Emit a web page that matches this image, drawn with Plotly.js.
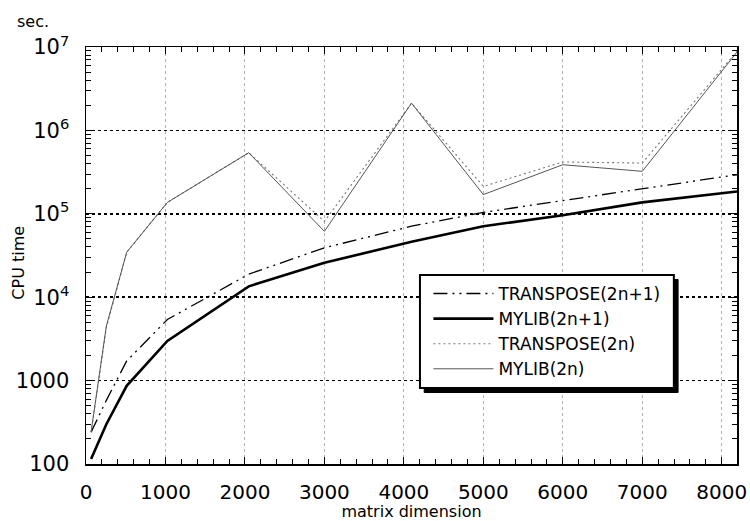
<!DOCTYPE html>
<html>
<head>
<meta charset="utf-8">
<script src="https://cdn.plot.ly/plotly-3.0.1.min.js"></script>
<style>html,body{margin:0;padding:0;background:#fff;}#chart{width:750px;height:521px;}</style>
</head>
<body>
<div id="chart"></div>
<script>
// matrix dimensions (x)
var dims = [64, 256, 512, 1024, 2048, 3000, 4096, 5000, 6000, 7000, 8192];
// CPU time in seconds
var transpose2n1 = [240, 580, 1720, 5400, 18900, 39100, 71000, 104000, 144000, 199000, 294000];
var mylib2n1     = [115, 300, 865, 2990, 13500, 25900, 46100, 71000, 96000, 137000, 185000];
var transpose2n  = [240, 4300, 34600, 137000, 540000, 81000, 2120000, 213000, 418000, 406000, 8900000];
var mylib2n      = [242, 4500, 34600, 137000, 540000, 61600, 2120000, 170000, 388000, 323000, 8700000];

var seriesNames = ['TRANSPOSE(2n+1)', 'MYLIB(2n+1)', 'TRANSPOSE(2n)', 'MYLIB(2n)'];

var yTickVals = [100, 1000, 1e4, 1e5, 1e6, 1e7];
var yTickText = ['100', '1000', '10<sup>4</sup>', '10<sup>5</sup>', '10<sup>6</sup>', '10<sup>7</sup>'];
var xTickVals = [0, 1000, 2000, 3000, 4000, 5000, 6000, 7000, 8000];
var xTickText = ['0', '1000', '2000', '3000', '4000', '5000', '6000', '7000', '8000'];

var yMinor = [];
for (var k = 2; k <= 6; k++) {
  for (var m = 2; m <= 9; m++) yMinor.push(m * Math.pow(10, k));
}

var traces = [
  {x: dims, y: transpose2n1, name: seriesNames[0], mode: 'lines',
   line: {color: '#000', width: 1.3, dash: '14px,5px,2px,5px,2px,5px'}},
  {x: dims, y: mylib2n1, name: seriesNames[1], mode: 'lines',
   line: {color: '#000', width: 2.6}},
  {x: dims, y: transpose2n, name: seriesNames[2], mode: 'lines',
   line: {color: '#777', width: 1.1, dash: '2px,3px'}},
  {x: dims, y: mylib2n, name: seriesNames[3], mode: 'lines',
   line: {color: '#555', width: 1}}
];

// legend box geometry in paper coords (plot area: 86..737 x, 47..464 y)
var bx0 = 0.513, bx1 = 0.903, by0 = 0.182, by1 = 0.453;
var sdx = 0.0065, sdy = 0.0105;

var layout = {
  width: 750, height: 521,
  margin: {l: 86, r: 13, t: 47, b: 57},
  paper_bgcolor: '#fff', plot_bgcolor: '#fff',
  font: {family: 'DejaVu Sans, sans-serif', color: '#000'},
  showlegend: true,
  legend: {
    x: bx0 + 0.013, y: by1 - 0.002, xanchor: 'left', yanchor: 'top',
    bgcolor: 'rgba(0,0,0,0)', borderwidth: 0, itemwidth: 60,
    font: {family: 'DejaVu Sans, sans-serif', size: 17, color: '#000'},
    traceorder: 'normal'
  },
  xaxis: {
    range: [0, 8192], type: 'linear',
    tickmode: 'array', tickvals: xTickVals, ticktext: xTickText,
    ticks: 'inside', ticklen: 7, tickwidth: 1, tickcolor: '#000',
    showline: true, linecolor: '#000', linewidth: 1.5, mirror: 'allticks',
    showgrid: true, gridcolor: '#b0b0b0', gridwidth: 1, griddash: 'dot',
    zeroline: false,
    tickfont: {family: 'DejaVu Sans, sans-serif', size: 20, color: '#000'},
    ticklabelstandoff: 9,
    minor: {dtick: 200, tick0: 0, ticks: 'inside', ticklen: 5, tickcolor: '#000', showgrid: false},
    title: {text: 'matrix dimension', font: {size: 16, color: '#000'}, standoff: 3}
  },
  yaxis: {
    type: 'log', range: [2, 7],
    tickmode: 'array', tickvals: yTickVals, ticktext: yTickText,
    ticks: 'inside', ticklen: 7, tickwidth: 1, tickcolor: '#000',
    showline: true, linecolor: '#000', linewidth: 1.5, mirror: 'allticks',
    showgrid: true, gridcolor: '#000', gridwidth: 1.5, griddash: 'dot',
    zeroline: false,
    tickfont: {family: 'DejaVu Sans, sans-serif', size: 21, color: '#000'},
    ticklabelstandoff: 11,
    minor: {tickmode: 'array', tickvals: yMinor, ticks: 'inside', ticklen: 5, tickcolor: '#000', showgrid: false}
  },
  shapes: [
    {type: 'rect', xref: 'paper', yref: 'paper', layer: 'above',
     x0: bx0 + sdx, x1: bx1 + sdx, y0: by0 - sdy, y1: by1 - sdy,
     fillcolor: '#000', line: {color: '#000', width: 1}},
    {type: 'rect', xref: 'paper', yref: 'paper', layer: 'above',
     x0: bx0, x1: bx1, y0: by0, y1: by1,
     fillcolor: '#fff', line: {color: '#000', width: 2}}
  ],
  annotations: [
    {text: 'sec.', xref: 'paper', yref: 'paper', x: -0.081, y: 1.0, xanchor: 'center', yanchor: 'bottom',
     yshift: 14, showarrow: false, font: {size: 16, color: '#000'}},
    {text: 'CPU time', xref: 'paper', yref: 'paper', x: -0.1037, y: 0.484, xanchor: 'center', yanchor: 'middle',
     textangle: -90, showarrow: false, font: {size: 16, color: '#000'}}
  ]
};

Plotly.newPlot('chart', traces, layout, {displayModeBar: false, staticPlot: true});
</script>
</body>
</html>
